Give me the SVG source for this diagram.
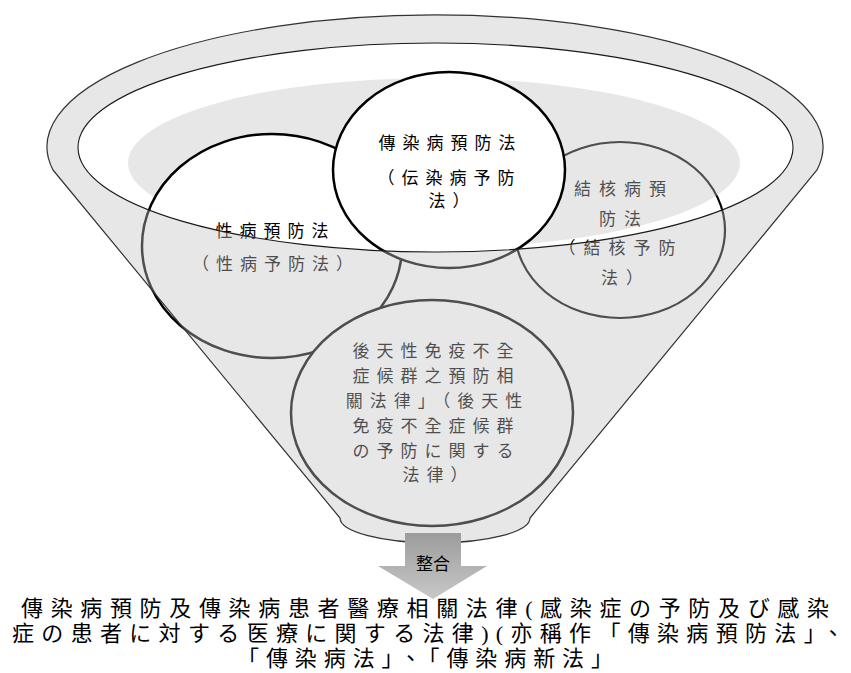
<svg xmlns="http://www.w3.org/2000/svg" width="851" height="673" viewBox="0 0 851 673">
  <style>
    .t { font-family: "Noto Sans CJK TC", "Noto Sans CJK JP", sans-serif; font-size: 17px; fill: #000; text-anchor: middle; }
    .s7 { letter-spacing: 7px; }
    .s8 { letter-spacing: 8px; }
    .title { font-family: "Liberation Serif", "Noto Sans CJK TC", "Noto Sans CJK JP", serif; font-size: 22px; fill: #000; text-anchor: middle; }
    .ov { fill: #c2c2c2; fill-opacity: 0.4; }
  </style>
  <defs>
    <linearGradient id="ag" x1="0" y1="0" x2="0" y2="1">
      <stop offset="0" stop-color="#9c9c9c"/>
      <stop offset="1" stop-color="#c8c8c8"/>
    </linearGradient>
  </defs>
  <rect width="851" height="673" fill="#fff"/>

  <g id="node-kekkaku">
    <ellipse cx="620" cy="230" rx="105" ry="88" fill="#fff" stroke="#000" stroke-width="2.2"/>
    <text class="t s8" x="624" y="195">結核病預</text>
    <text class="t s8" x="624" y="225">防法</text>
    <text class="t s8" x="621" y="254">（結核予防</text>
    <text class="t s8" x="626" y="284">法）</text>
  </g>

  <g id="funnel-shadow">
    <ellipse class="ov" cx="434" cy="163" rx="306" ry="85"/>
  </g>

  <g id="node-seibyo">
    <ellipse cx="272" cy="246" rx="130" ry="112" fill="#fff" stroke="#000" stroke-width="2.5"/>
    <text class="t s7" x="275.5" y="237">性病預防法</text>
    <text class="t s7" x="276" y="270">（性病予防法）</text>
  </g>

  <g id="node-aids">
    <ellipse cx="432" cy="413" rx="141" ry="113" fill="#fff" stroke="#000" stroke-width="2.5"/>
    <text class="t s7" x="436.5" y="357">後天性免疫不全</text>
    <text class="t s7" x="436.5" y="382">症候群之預防相</text>
    <text class="t s7" x="437.5" y="407">關法律」（後天性</text>
    <text class="t s7" x="436.5" y="432">免疫不全症候群</text>
    <text class="t s7" x="436.5" y="457">の予防に関する</text>
    <text class="t s7" x="438.5" y="481">法律）</text>
  </g>

  <g id="node-densen">
    <ellipse cx="449" cy="170" rx="116" ry="98" fill="#fff" stroke="#000" stroke-width="2.5"/>
    <text class="t s7" x="450.5" y="149">傳染病預防法</text>
    <text class="t s7" x="449.5" y="184">（伝染病予防</text>
    <text class="t s7" x="452.5" y="207">法）</text>
  </g>

  <g id="funnel-front">
    <path class="ov" fill-rule="evenodd" d="M53 170 L340 518 A95 25 0 0 0 530 518 L817 170 A388 132 0 1 0 53 170 Z M78 147.5 A357.5 104.5 0 1 0 793 147.5 A357.5 104.5 0 1 0 78 147.5 Z"/>
    <path d="M53 170 L340 518 A95 25 0 0 0 530 518 L817 170 A388 132 0 1 0 53 170 Z" fill="none" stroke="#333" stroke-width="1.2"/>
    <ellipse cx="435.5" cy="147.5" rx="357.5" ry="104.5" fill="none" stroke="#1a1a1a" stroke-width="1.1"/>
  </g>

  <g id="connectors">
    <path d="M405 533 H461 V566 H487 L433 599 L378 566 H405 Z" fill="url(#ag)"/>
    <text class="t" x="433" y="570">整合</text>
  </g>

  <g id="node-result">
    <text class="title" x="425" y="616" textLength="808" lengthAdjust="spacing">傳染病預防及傳染病患者醫療相關法律(感染症の予防及び感染</text>
    <text class="title" x="428" y="641" textLength="832" lengthAdjust="spacing">症の患者に対する医療に関する法律)(亦稱作「傳染病預防法」、</text>
    <text class="title" x="425" y="666" textLength="376" lengthAdjust="spacing">「傳染病法」、「傳染病新法」</text>
  </g>
</svg>
